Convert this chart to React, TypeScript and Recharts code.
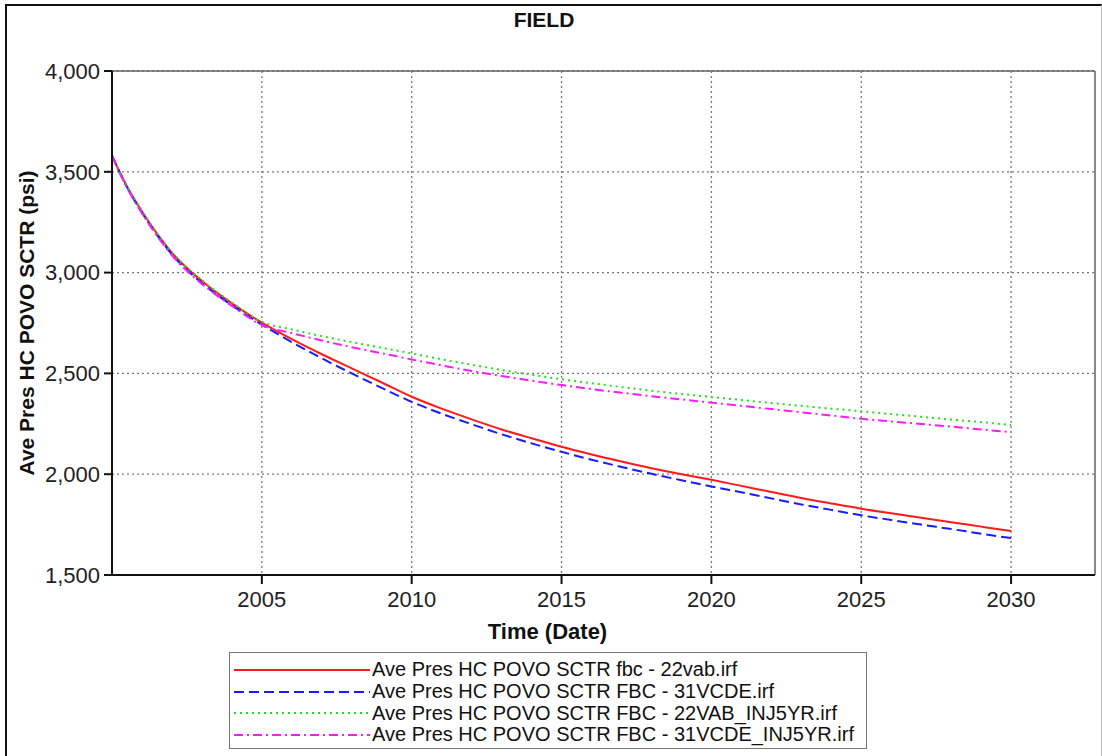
import { CartesianGrid, Line, LineChart, ReferenceLine, XAxis, YAxis } from "recharts"

// time axis (decimal years)
const years = [
  2000, 2000.5, 2001, 2001.5, 2002, 2003, 2004, 2005, 2006, 2007, 2008, 2009, 2010, 2011, 2012, 2013, 2014, 2015, 2016,
  2017, 2018, 2019, 2020, 2021, 2022, 2023, 2024, 2025, 2026, 2027, 2028, 2029, 2030,
]

// average pressure, psi
const fbc22vab = [
  3580, 3427, 3303, 3193, 3098, 2958, 2847, 2752, 2670, 2595, 2525, 2455, 2384, 2325, 2272, 2222, 2178, 2136, 2098,
  2063, 2030, 2000, 1972, 1942, 1912, 1882, 1855, 1829, 1806, 1784, 1762, 1740, 1718,
]
const fbc31vcde = [
  3580, 3424, 3298, 3187, 3090, 2948, 2838, 2742, 2655, 2575, 2500, 2428, 2359, 2300, 2248, 2198, 2153, 2111, 2072,
  2036, 2002, 1970, 1939, 1910, 1880, 1850, 1823, 1796, 1773, 1750, 1728, 1705, 1683,
]
const fbc22vabInj = [
  3580, 3429, 3306, 3196, 3101, 2962, 2851, 2756, 2718, 2685, 2655, 2627, 2599, 2570, 2543, 2517, 2493, 2471, 2451,
  2432, 2414, 2398, 2383, 2368, 2353, 2339, 2325, 2312, 2298, 2285, 2271, 2258, 2244,
]
const fbc31vcdeInj = [
  3578, 3421, 3294, 3183, 3086, 2944, 2835, 2740, 2700, 2663, 2630, 2600, 2569, 2540, 2512, 2487, 2464, 2442, 2422,
  2404, 2387, 2371, 2355, 2339, 2323, 2307, 2291, 2275, 2262, 2249, 2236, 2222, 2209,
]

const xTicks = [2005, 2010, 2015, 2020, 2025, 2030]
const yTicks = [1500, 2000, 2500, 3000, 3500, 4000]

const series = [
  { key: "a", name: "Ave Pres HC POVO SCTR fbc - 22vab.irf", color: "#ff1a1a", dash: undefined },
  { key: "b", name: "Ave Pres HC POVO SCTR FBC - 31VCDE.irf", color: "#1a1aff", dash: "10 5" },
  { key: "c", name: "Ave Pres HC POVO SCTR FBC - 22VAB_INJ5YR.irf", color: "#22dd22", dash: "2 4" },
  { key: "d", name: "Ave Pres HC POVO SCTR FBC - 31VCDE_INJ5YR.irf", color: "#ff1aff", dash: "9 4 2 4" },
]

const data = years.map((t, i) => ({
  t,
  a: fbc22vab[i],
  b: fbc31vcde[i],
  c: fbc22vabInj[i],
  d: fbc31vcdeInj[i],
}))

const font = "'Liberation Sans', Arial, sans-serif"

export default function App() {
  return (
    <div
      style={{
        position: "absolute",
        left: 0,
        top: 0,
        width: 1102,
        height: 756,
        overflow: "hidden",
        background: "#fff",
        fontFamily: font,
      }}
    >
      <div
        style={{
          position: "absolute",
          left: 5,
          top: 4,
          width: 1094,
          height: 800,
          borderLeft: "2px solid #111",
          borderTop: "2px solid #111",
          borderRight: "1px solid #bbb",
        }}
      />
      <div
        style={{
          position: "absolute",
          left: 0,
          width: 1088,
          top: 8,
          textAlign: "center",
          fontWeight: "bold",
          fontSize: 21,
          color: "#111",
        }}
      >
        FIELD
      </div>
      <div style={{ position: "absolute", left: 0, top: 0 }}>
        <LineChart width={1102} height={756} data={data} margin={{ top: 71, right: 7, left: 0, bottom: 131 }}>
          <CartesianGrid stroke="#777" strokeDasharray="2 3" strokeWidth={1.3} />
          <XAxis
            dataKey="t"
            type="number"
            domain={[2000, 2032.8]}
            ticks={xTicks}
            allowDataOverflow
            height={50}
            tickSize={9}
            tickMargin={7}
            axisLine={{ stroke: "#111", strokeWidth: 2 }}
            tickLine={{ stroke: "#111", strokeWidth: 2 }}
            tick={{ fill: "#222", fontSize: 22, fontFamily: font }}
            label={{
              value: "Time (Date)",
              position: "bottom",
              offset: -2,
              dx: -56,
              fill: "#111",
              fontSize: 22,
              fontWeight: "bold",
              fontFamily: font,
            }}
          />
          <YAxis
            type="number"
            domain={[1500, 4000]}
            ticks={yTicks}
            width={112}
            tickSize={8}
            tickMargin={4}
            tickFormatter={(v: number) => v.toLocaleString("en-US")}
            axisLine={{ stroke: "#111", strokeWidth: 2 }}
            tickLine={{ stroke: "#111", strokeWidth: 2 }}
            tick={{ fill: "#222", fontSize: 22, fontFamily: font }}
            label={{
              value: "Ave Pres HC POVO SCTR (psi)",
              angle: -90,
              position: "insideLeft",
              offset: 27,
              fill: "#111",
              fontSize: 21,
              fontWeight: "bold",
              fontFamily: font,
              style: { textAnchor: "middle" },
            }}
          />
          <ReferenceLine y={4000} stroke="#666" strokeWidth={1.5} />
          <ReferenceLine x={2032.8} stroke="#888" strokeWidth={2} />
          {series.map((s) => (
            <Line
              key={s.key}
              dataKey={s.key}
              name={s.name}
              type="monotone"
              stroke={s.color}
              strokeWidth={2}
              strokeDasharray={s.dash}
              dot={false}
              activeDot={false}
              isAnimationActive={false}
            />
          ))}
        </LineChart>
      </div>
      <div
        style={{
          position: "absolute",
          left: 229,
          top: 652,
          width: 636,
          height: 89,
          border: "1.5px solid #777",
          paddingTop: 6,
        }}
      >
        {series.map((s) => (
          <div key={s.key} style={{ display: "flex", alignItems: "center", height: 21.7 }}>
            <svg width={138} height={10} style={{ flex: "none", marginLeft: 4 }}>
              <line x1={0} y1={5} x2={136} y2={5} stroke={s.color} strokeWidth={2} strokeDasharray={s.dash} />
            </svg>
            <span style={{ fontSize: 20, color: "#111", whiteSpace: "nowrap" }}>{s.name}</span>
          </div>
        ))}
      </div>
    </div>
  )
}
